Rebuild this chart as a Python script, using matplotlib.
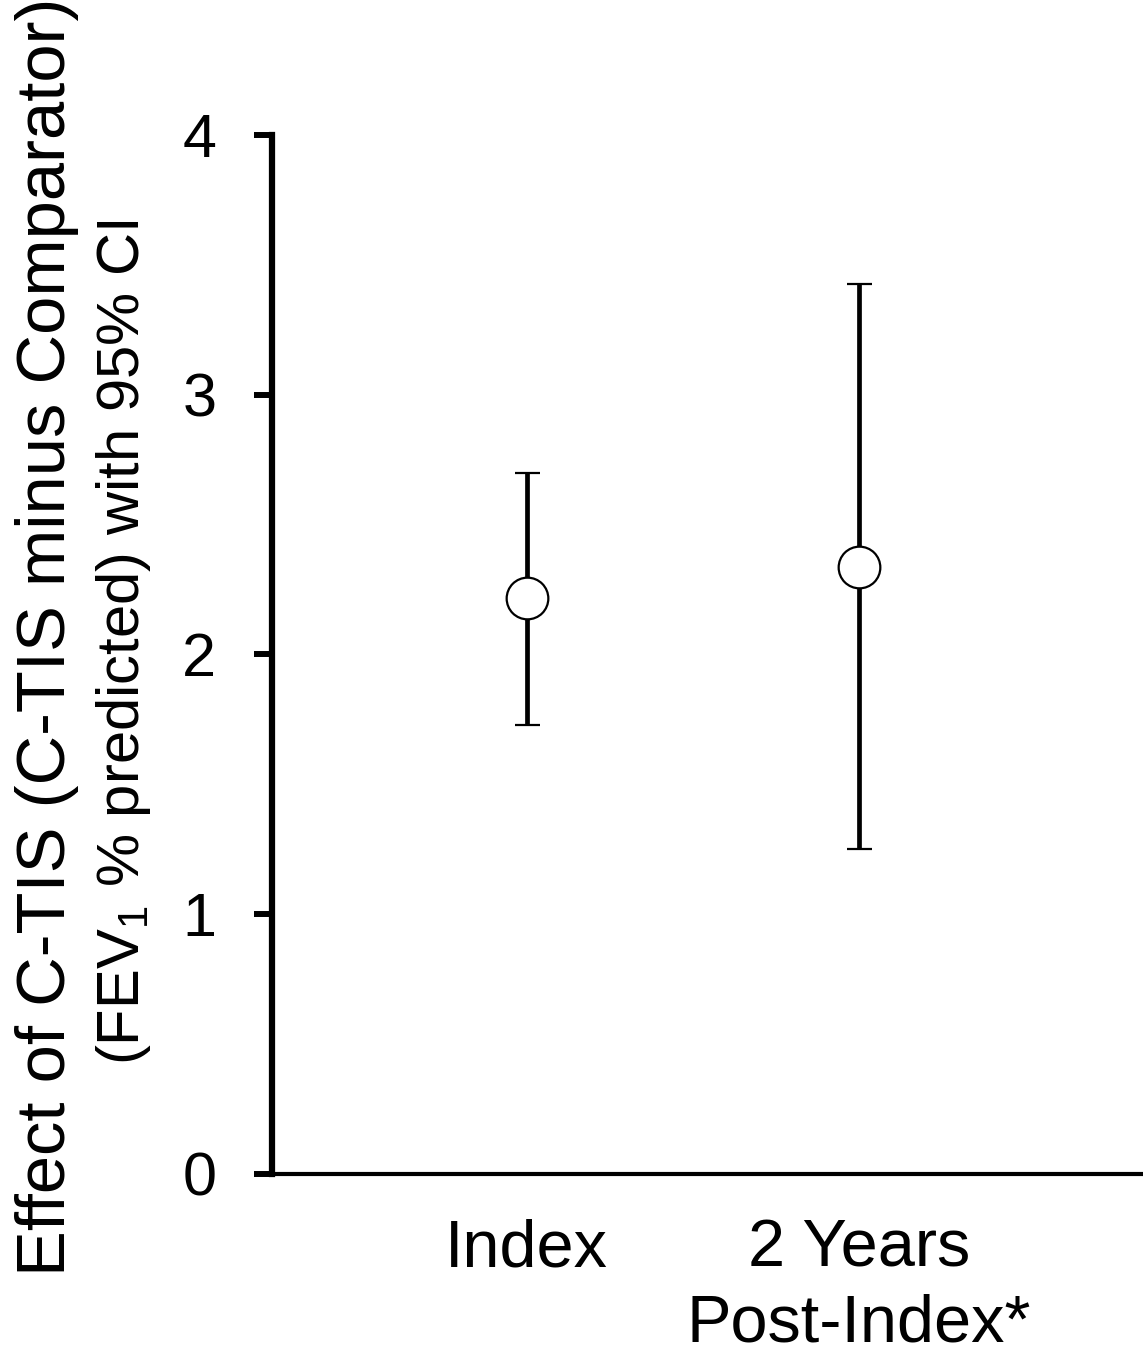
import numpy as np
import matplotlib as mpl
mpl.use('Agg')
import matplotlib.pyplot as plt

plt.rcParams['font.family'] = ['Liberation Sans', 'DejaVu Sans']
plt.rcParams['mathtext.fontset'] = 'custom'
plt.rcParams['mathtext.rm'] = 'Liberation Sans'

#data
aCategory = ['Index', '2 Years\nPost-Index*']
aEffect = [2.216, 2.336]
aCI_low = [1.729, 1.251]
aCI_high = [2.70, 3.426]
aYtick = [0, 1, 2, 3, 4]

aX = np.arange(1, len(aCategory) + 1)
aErr = np.array([np.array(aEffect) - np.array(aCI_low),
                 np.array(aCI_high) - np.array(aEffect)])

fig = plt.figure(figsize=(11.43, 13.63), dpi=100)
ax = fig.add_axes([0.238, 0.1387, 0.762, 0.7623])

ax.errorbar(aX, aEffect, yerr=aErr, fmt='o', color='black',
            ecolor='black', elinewidth=3.4, capsize=9, capthick=3.6,
            markersize=30, markerfacecolor='white', markeredgecolor='black',
            markeredgewidth=1.6, zorder=3)

ax.set_xlim(0.2335, 2.855)
ax.set_ylim(0, 4)
ax.set_yticks(aYtick)
ax.set_yticklabels([str(v) for v in aYtick], fontsize=44)
ax.set_xticks(aX)
ax.set_xticklabels(aCategory, fontsize=48, linespacing=1.28)

ax.spines['top'].set_visible(False)
ax.spines['right'].set_visible(False)
ax.spines['left'].set_linewidth(4.5)
ax.spines['bottom'].set_linewidth(3.0)
ax.tick_params(axis='y', direction='out', length=13, width=4.3, pad=27)
ax.tick_params(axis='x', length=0, pad=32)

#two line y label with different sizes
fig.text(0.0135, 0.5325, 'Effect of C-TIS (C-TIS minus Comparator)',
         rotation=90, fontsize=49.5, ha='left', va='center')
fig.text(0.082, 0.5288, r'(FEV$_\mathregular{1}$ % predicted) with 95% CI',
         rotation=90, fontsize=43, ha='left', va='center')

plt.savefig('out.png', dpi=100)
plt.close('all')
